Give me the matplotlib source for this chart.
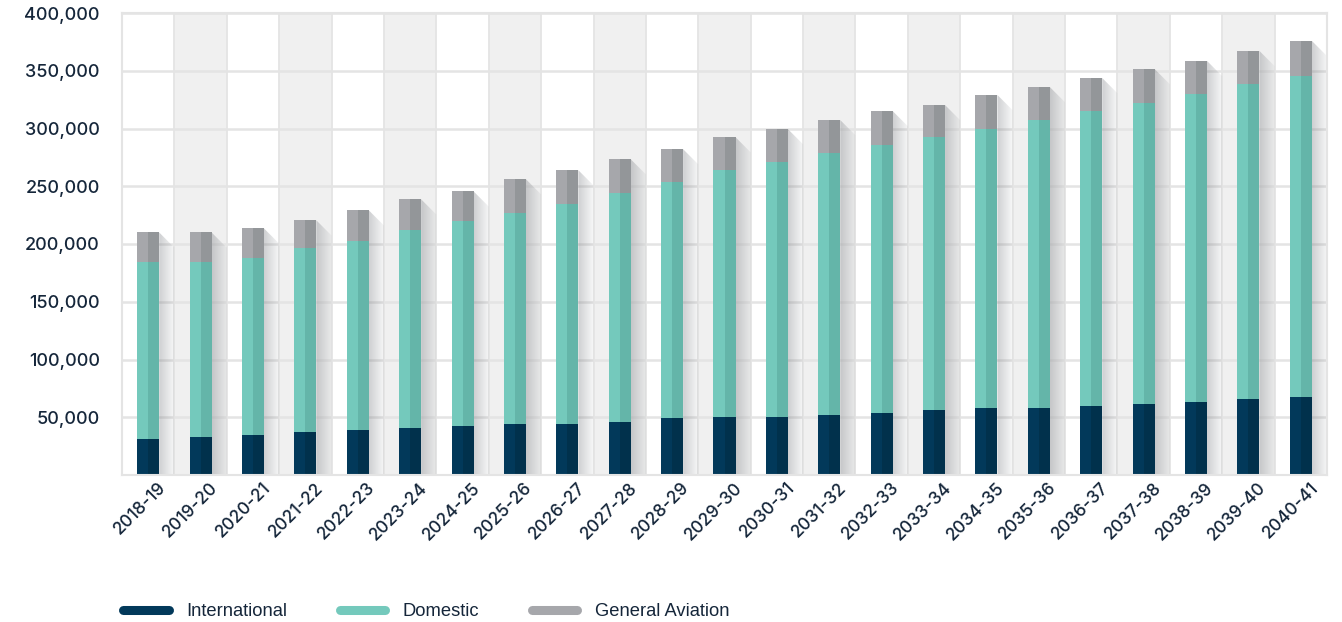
import numpy as np
import matplotlib.pyplot as plt
from matplotlib.lines import Line2D
from matplotlib.patches import Polygon
from matplotlib.transforms import ScaledTranslation

# Aircraft movements forecast by financial year
years = ["2018-19", "2019-20", "2020-21", "2021-22", "2022-23", "2023-24",
         "2024-25", "2025-26", "2026-27", "2027-28", "2028-29", "2029-30",
         "2030-31", "2031-32", "2032-33", "2033-34", "2034-35", "2035-36",
         "2036-37", "2037-38", "2038-39", "2039-40", "2040-41"]

international = [31300, 33000, 34700, 37300, 39000, 40800, 42500, 44300,
                 44300, 46000, 49500, 50300, 50300, 52100, 53800, 56400,
                 58200, 58200, 59900, 61600, 63400, 66000, 67700]

domestic = [152700, 151000, 152800, 158900, 163300, 171000, 177100, 182300,
            190100, 197900, 204000, 213600, 220500, 226600, 231800, 236100,
            241300, 249100, 255200, 260400, 266500, 272500, 277800]

general_aviation = [26000, 26000, 26000, 24300, 26900, 26900, 26000, 29500,
                    29500, 29500, 28600, 28600, 28700, 28600, 29500, 27800,
                    29500, 28600, 28600, 29500, 28600, 28700, 30400]

series = [
    ("International", international, "#02395a", "#01314c"),
    ("Domestic", domestic, "#74c9bc", "#64b5a9"),
    ("General Aviation", general_aviation, "#a6a7ab", "#939699"),
]

text_col = "#15263a"
band_col = "#f0f0f0"
grid_col = "#e4e4e4"

fig = plt.figure(figsize=(13.42, 6.22), dpi=100)
ax = fig.add_axes([122 / 1342, 1 - 475 / 622, 1205 / 1342, 462 / 622])

n = len(years)
x = np.arange(n)
ax.set_xlim(-0.5, n - 0.5)
ax.set_ylim(0, 400000)

# alternating column bands
for i in range(n):
    if i % 2 == 1:
        ax.axvspan(i - 0.5, i + 0.5, color=band_col, lw=0, zorder=0)
for b in np.arange(-0.5, n, 1.0):
    ax.axvline(b, color=grid_col, lw=1.3, zorder=0.5)
for v in range(50000, 400001, 50000):
    ax.axhline(v, color=grid_col, lw=1.8, zorder=0.5)

half = 0.21
totals = np.array(international) + np.array(domestic) + np.array(general_aviation)

# diagonal drop shadows behind each bar (45 degrees in screen space)
p0 = ax.transData.transform((0, 0))
p1 = ax.transData.transform((1, 1))
px_per_x = p1[0] - p0[0]
px_per_y = p1[1] - p0[1]
shadow_w = 0.5 - half
drop = shadow_w * px_per_x / px_per_y
grad = np.zeros((2, 64, 4))
grad[..., :3] = (0.50, 0.51, 0.53)
grad[..., 3] = np.linspace(0.38, 0.05, 64)[None, :]
for xi, top in zip(x, totals):
    xr = xi + half
    xe = xi + 0.5
    poly = Polygon([(xr, top), (xe, top - drop), (xe, 0), (xr, 0)],
                   closed=True, transform=ax.transData, fc="none", ec="none")
    ax.add_patch(poly)
    im = ax.imshow(grad, extent=[xr, xe, 0, top], aspect="auto",
                   interpolation="bilinear", zorder=1)
    im.set_clip_path(poly)
ax.set_xlim(-0.5, n - 0.5)
ax.set_ylim(0, 400000)

# two-tone stacked bars
bottom = np.zeros(n)
for name, vals, light, dark in series:
    vals = np.array(vals)
    ax.bar(x - half, vals, width=half, bottom=bottom, align="edge",
           color=light, lw=0, zorder=2)
    ax.bar(x, vals, width=half, bottom=bottom, align="edge",
           color=dark, lw=0, zorder=2)
    bottom += vals

for s in ["top", "right", "left", "bottom"]:
    ax.spines[s].set_color(grid_col)
    ax.spines[s].set_linewidth(1.5)

ax.set_yticks(range(50000, 400001, 50000))
ax.set_yticklabels([f"{v:,}" for v in range(50000, 400001, 50000)],
                   fontsize=13, color=text_col, family="Inter",
                   fontweight="medium")
ax.tick_params(axis="y", length=0, pad=16)

ax.set_xticks(x)
ax.set_xticklabels(years, rotation=45, ha="right", rotation_mode="anchor",
                   fontsize=12.5, color=text_col, family="Inter",
                   fontweight="medium")
ax.tick_params(axis="x", length=0, pad=3)
shift = ScaledTranslation(9 / 100, 0, fig.dpi_scale_trans)
for lab in ax.get_xticklabels():
    lab.set_transform(lab.get_transform() + shift)

handles = [Line2D([0], [0], color=light, lw=6.5, solid_capstyle="round")
           for _, _, light, _ in series]
fig.legend(handles, [s[0] for s in series], loc="center left",
           bbox_to_anchor=(123 / 1342, 1 - 612 / 622), ncol=3, frameon=False,
           handlelength=2.5, handletextpad=0.95, columnspacing=2.85,
           borderpad=0, borderaxespad=0,
           prop={"family": "Liberation Sans", "size": 13.2},
           labelcolor=text_col)

fig.savefig("out.png", dpi=100)
